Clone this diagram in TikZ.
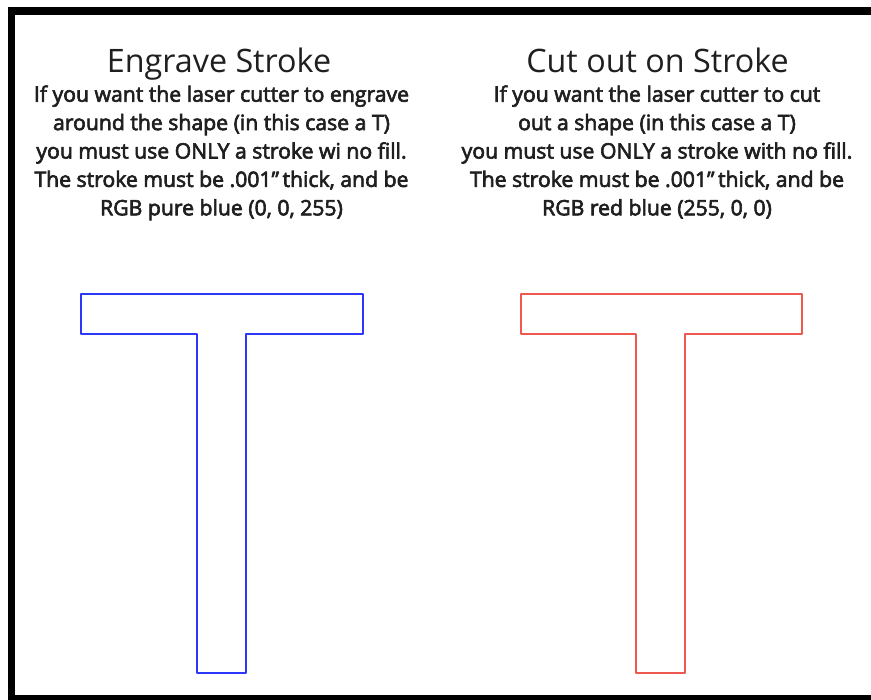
\documentclass[tikz,border=0pt]{standalone}
\usepackage{fontspec}
\setmainfont{Open Sans}
\newfontfamily\semifont[FakeBold=3]{Open Sans}
\definecolor{engraveblue}{RGB}{45,55,250}
\definecolor{cutred}{RGB}{238,88,78}
\tikzset{
  title/.style={anchor=base, font=\fontsize{32.3}{36}\selectfont, text=black!88},
  body/.style={anchor=base, font=\semifont\fontsize{21.2}{24}\selectfont, text=black!88},
  tstroke/.style={line width=2.4pt, line join=round}
}

\begin{document}
\begin{tikzpicture}[x=1pt,y=-1pt]
\useasboundingbox (0,0) rectangle (871,700);
\clip (0,0) rectangle (871,700);
\xdef\gap{28.4}
% frame, cut off at the right and bottom
\draw[line width=7.5pt] (11.5,11) rectangle (880,698.5);
% left column
\node[title] (engravetitle) at (219,72.7) {Engrave Stroke};
\foreach \txt [count=\i from 0] in {If you want the laser cutter to engrave,
  around the shape (in this case a T),
  you must use ONLY a stroke wi no fill.,
  {The stroke must be .001\textquotedblright\,thick, and be},
  {RGB pure blue (0, 0, 255)}}
  \node[body] (engrave\i) at (221.5,101.7+\i*\gap) {\txt};
% right column
\node[title] (cuttitle) at (657.5,72.7) {Cut out on Stroke};
\foreach \txt [count=\i from 0] in {If you want the laser cutter to cut,
  out a shape (in this case a T),
  you must use ONLY a stroke with no fill.,
  {The stroke must be .001\textquotedblright\,thick, and be},
  {RGB red blue (255, 0, 0)}}
  \node[body] (cut\i) at (657,101.7+\i*\gap) {\txt};
% the two T outlines
\coordinate (E) at (81,294);
\coordinate (C) at (521,294);
\draw[tstroke, engraveblue] (E) -- ++(282,0) -- ++(0,40) -- ++(-117,0) -- ++(0,339)
  -- ++(-49,0) -- ++(0,-339) -- ++(-116,0) -- cycle;
\draw[tstroke, cutred] (C) -- ++(281,0) -- ++(0,40) -- ++(-117,0) -- ++(0,339)
  -- ++(-49,0) -- ++(0,-339) -- ++(-115,0) -- cycle;
\end{tikzpicture}
\end{document}
